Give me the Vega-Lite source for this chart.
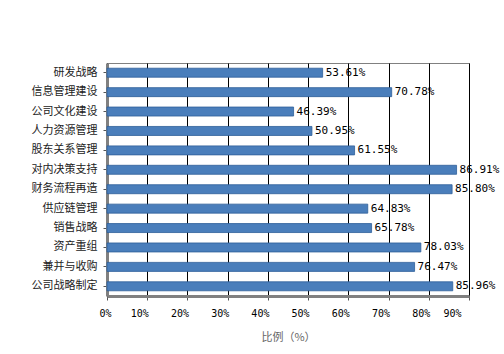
{
  "$schema": "https://vega.github.io/schema/vega-lite/v6.json",
  "width": 362,
  "height": 233,
  "autosize": {"type": "none"},
  "padding": {"left": 107, "top": 63, "right": 35, "bottom": 58},
  "background": "white",
  "config": {
    "view": {"stroke": "#808080", "strokeWidth": 1},
    "font": "Noto Sans CJK SC"
  },
  "data": {
    "values": [
      {"cat": "研发战略", "v": 0.5361},
      {"cat": "信息管理建设", "v": 0.7078},
      {"cat": "公司文化建设", "v": 0.4639},
      {"cat": "人力资源管理", "v": 0.5095},
      {"cat": "股东关系管理", "v": 0.6155},
      {"cat": "对内决策支持", "v": 0.8691},
      {"cat": "财务流程再造", "v": 0.858},
      {"cat": "供应链管理", "v": 0.6483},
      {"cat": "销售战略", "v": 0.6578},
      {"cat": "资产重组", "v": 0.7803},
      {"cat": "兼并与收购", "v": 0.7647},
      {"cat": "公司战略制定", "v": 0.8596}
    ]
  },
  "encoding": {
    "y": {
      "field": "cat",
      "type": "nominal",
      "sort": null,
      "scale": {"paddingInner": 0.5, "paddingOuter": 0.25},
      "axis": {
        "title": null,
        "labelFont": "Noto Sans CJK SC",
        "labelFontSize": 11,
        "labelColor": "#222",
        "labelPadding": 6,
        "tickSize": 4,
        "tickColor": "#555",
        "domainColor": "#808080",
        "domainWidth": 3
      }
    },
    "x": {
      "field": "v",
      "type": "quantitative",
      "scale": {"domain": [0, 0.9], "nice": false},
      "axis": {
        "format": ".0%",
        "values": [0, 0.1, 0.2, 0.3, 0.4, 0.5, 0.6, 0.7, 0.8, 0.9],
        "title": "比例（%）",
        "titleFont": "Noto Sans CJK SC",
        "titleFontSize": 11,
        "titleFontWeight": "normal",
        "titleColor": "#666",
        "titlePadding": 13,
        "labelFont": "DejaVu Sans Mono",
        "labelFontSize": 10,
        "labelColor": "#000",
        "labelOffset": -8,
        "labelPadding": 8,
        "grid": true,
        "gridColor": "#000",
        "gridOpacity": 1,
        "tickSize": 4,
        "tickColor": "#555",
        "domainColor": "#808080",
        "domainWidth": 3
      }
    }
  },
  "layer": [
    {
      "mark": {"type": "bar", "color": "#4a7ebb", "stroke": "#2f5f99", "strokeWidth": 0.8, "height": 9}
    },
    {
      "mark": {"type": "text", "align": "left", "baseline": "middle", "dx": 3, "font": "DejaVu Sans Mono", "fontSize": 11, "color": "#000"},
      "encoding": {
        "text": {"field": "v", "type": "quantitative", "format": ".2%"}
      }
    }
  ]
}
